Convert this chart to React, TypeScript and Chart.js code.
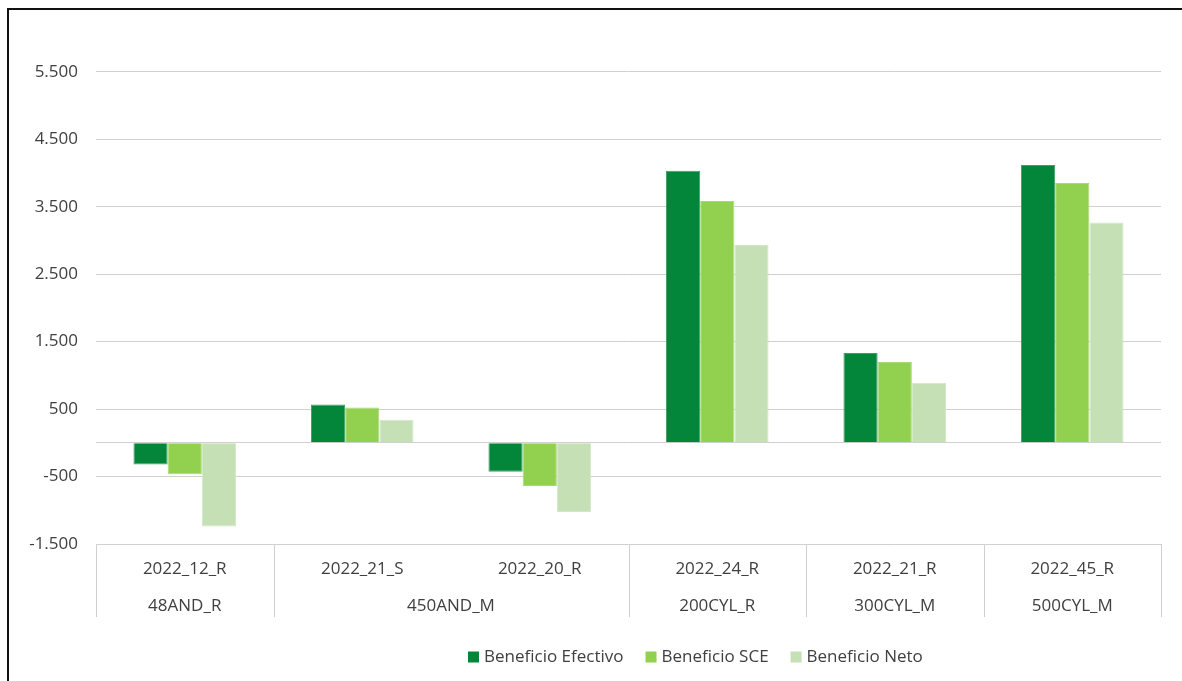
import React, { useEffect, useRef } from "react";
import { Chart, registerables } from "chart.js";

Chart.register(...registerables);

const categories = ["2022_12_R", "2022_21_S", "2022_20_R", "2022_24_R", "2022_21_R", "2022_45_R"];
const groups = ["48AND_R", "450AND_M", "450AND_M", "200CYL_R", "300CYL_M", "500CYL_M"];
const seriesNames = ["Beneficio Efectivo", "Beneficio SCE", "Beneficio Neto"];
const efectivo = [-320, 569, -428, 4033, 1331, 4117];
const sce = [-468, 525, -641, 3584, 1198, 3851];
const neto = [-1239, 342, -1026, 2932, 891, 3267];
const yTicks = [-1500, -500, 0, 500, 1500, 2500, 3500, 4500, 5500];
const yMin = -1500;
const yMax = 6000;

const colors = ["#03853A", "#92D050", "#C5E0B4"];
const borderColors = ["#3E9F62", "#A8DA74", "#D3E8C6"];
const FONT = "'Open Sans', sans-serif";
const TEXT = "#404040";
const GRID = "#d0d0d0";

const fmt = (v: number) => {
  if (v === 0) return "";
  const s = Math.abs(v).toString().replace(/\B(?=(\d{3})+(?!\d))/g, ".");
  return (v < 0 ? "-" : "") + s;
};

const multiLevelPlugin = {
  id: "multiLevel",
  afterDraw(chart: any) {
    const ctx = chart.ctx;
    const xs = chart.scales.x;
    const area = chart.chartArea;
    const n = categories.length;
    const step = (area.right - area.left) / n;
    ctx.save();
    ctx.font = `17px ${FONT}`;
    ctx.fillStyle = TEXT;
    ctx.textAlign = "center";
    ctx.textBaseline = "middle";
    categories.forEach((c, i) => {
      ctx.fillText(c, xs.getPixelForValue(i), 569);
    });
    const spans: { label: string; start: number; end: number }[] = [];
    groups.forEach((g, i) => {
      const last = spans[spans.length - 1];
      if (last && last.label === g) last.end = i;
      else spans.push({ label: g, start: i, end: i });
    });
    spans.forEach((s) => {
      const cx = (xs.getPixelForValue(s.start) + xs.getPixelForValue(s.end)) / 2;
      ctx.fillText(s.label, cx, 606);
    });
    ctx.strokeStyle = GRID;
    ctx.lineWidth = 1;
    const bounds = [area.left];
    spans.forEach((s) => bounds.push(xs.getPixelForValue(s.end) + step / 2));
    bounds.forEach((bx) => {
      const x = Math.round(bx) + 0.5;
      ctx.beginPath();
      ctx.moveTo(x, area.bottom);
      ctx.lineTo(x, 617);
      ctx.stroke();
    });
    let lx = 468;
    const ly = 657;
    seriesNames.forEach((name, i) => {
      ctx.fillStyle = colors[i];
      ctx.fillRect(lx, ly - 5.5, 11, 11);
      ctx.fillStyle = TEXT;
      ctx.textAlign = "left";
      ctx.fillText(name, lx + 16, ly);
      lx += 16 + ctx.measureText(name).width + 22;
    });
    ctx.restore();
  },
};

export default function App() {
  const ref = useRef<HTMLCanvasElement | null>(null);
  useEffect(() => {
    if (!ref.current) return;
    const data = [efectivo, sce, neto];
    const chart = new Chart(ref.current, {
      type: "bar",
      data: {
        labels: categories,
        datasets: seriesNames.map((name, i) => ({
          label: name,
          data: data[i],
          backgroundColor: colors[i],
          borderColor: borderColors[i],
          borderWidth: 1,
          categoryPercentage: 0.578,
          barPercentage: 1,
        })),
      },
      options: {
        responsive: false,
        animation: false,
        maintainAspectRatio: false,
        layout: { padding: { top: 38, right: 21, left: 0, bottom: 0 } },
        plugins: { legend: { display: false }, tooltip: { enabled: false } },
        scales: {
          x: {
            grid: { display: false },
            border: { display: false },
            ticks: { display: false },
            afterFit: (s: any) => {
              s.height = 681 - 544;
            },
          },
          y: {
            min: yMin,
            max: yMax,
            afterBuildTicks: (s: any) => {
              s.ticks = yTicks.map((v) => ({ value: v }));
            },
            afterFit: (s: any) => {
              s.width = 96;
            },
            grid: { color: GRID, lineWidth: 1, drawTicks: false },
            border: { display: false },
            ticks: {
              padding: 18,
              color: TEXT,
              font: { family: FONT, size: 17 },
              callback: (v: any) => fmt(Number(v)),
            },
          },
        },
      },
      plugins: [multiLevelPlugin],
    });
    return () => chart.destroy();
  }, []);

  return (
    <div
      style={{
        position: "fixed",
        left: 0,
        top: 0,
        width: 1182,
        height: 681,
        overflow: "hidden",
        background: "#fff",
      }}
    >
      <div
        style={{
          position: "absolute",
          left: 7,
          top: 8,
          width: 1300,
          height: 800,
          borderLeft: "2px solid #111",
          borderTop: "2px solid #111",
        }}
      />
      <canvas
        ref={ref}
        width={1182}
        height={681}
        style={{ position: "absolute", left: 0, top: 0, width: 1182, height: 681 }}
      />
    </div>
  );
}
